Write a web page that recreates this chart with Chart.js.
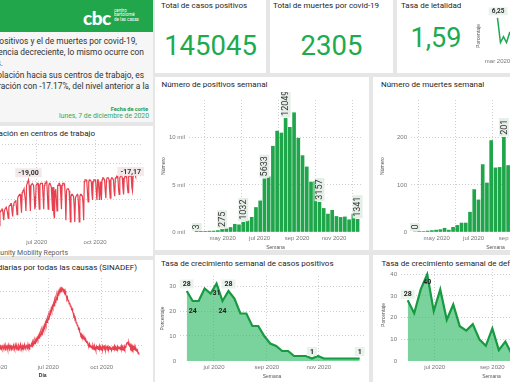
<!DOCTYPE html>
<html><head><meta charset="utf-8">
<script src="https://cdn.jsdelivr.net/npm/chart.js@4.4.1/dist/chart.umd.min.js"></script>
<style>
html,body{margin:0;padding:0}
body{width:510px;height:382px;overflow:hidden;position:relative;background:#e6e6e6;font-family:Roboto,'Open Sans',sans-serif;color:#252423}
.p{position:absolute;background:#fff;overflow:hidden}
.t{position:absolute;white-space:nowrap;line-height:1}
canvas{position:absolute}
</style></head><body>

<!-- left column -->
<div class="p" style="left:-200px;top:0;width:353px;height:122px;background:#f5f6f5"></div>
<div class="p" style="left:-200px;top:0;width:353px;height:32px;background:#21a64c"></div>
<div class="t" style="left:83px;top:6px;font:900 19px Lato,Roboto,sans-serif;color:#fff;letter-spacing:-0.5px">cbc</div>
<div class="t" style="left:114px;top:8px;font-size:9px;line-height:9px;color:#fff;transform:scale(0.5);transform-origin:0 0">centro<br>bartolomé<br>de las casas</div>

<div class="t" style="right:373px;top:37px;font-size:8.4px;line-height:9px;color:#333">El número de casos positivos y el de muertes por covid-19,</div>
<div class="t" style="right:366px;top:48px;font-size:8.4px;line-height:9px;color:#333">muestran una tendencia decreciente, lo mismo ocurre con</div>
<div class="t" style="right:507px;top:59px;font-size:8.4px;line-height:9px;color:#333">la mortalidad por todas las causas.</div>
<div class="t" style="right:366px;top:70.5px;font-size:8.4px;line-height:9px;color:#333">La movilidad de la población hacia sus centros de trabajo, es</div>
<div class="t" style="right:361px;top:81.5px;font-size:8.4px;line-height:9px;color:#333">la más alta desde la cuarentena, en recuperación con -17.17%, del nivel anterior a la</div>
<div class="t" style="right:362px;top:106px;font-size:5.6px;font-weight:700;line-height:6px;color:#1f9a47">Fecha de corte</div>
<div class="t" style="right:361px;top:113px;font-size:6.8px;line-height:7px;color:#35a853">lunes, 7 de diciembre de 2020</div>

<div class="p" style="left:-200px;top:126px;width:353px;height:130px"></div>
<div class="t" style="right:415px;top:129px;font-size:8px;line-height:9px">Movilidad: porcentaje de variación en centros de trabajo</div>
<div class="t" style="right:442px;top:248.5px;font-size:7px;line-height:8px;color:#605e5c">Fuente: Google Community Mobility Reports</div>
<canvas id="cMob" width="352" height="112" style="left:-200px;top:138px"></canvas>

<div class="p" style="left:-200px;top:260px;width:353px;height:130px"></div>
<div class="t" style="right:373px;top:262.5px;font-size:8px;line-height:9px">Muertes diarias por todas las causas (SINADEF)</div>
<canvas id="cSin" width="352" height="110" style="left:-200px;top:272px"></canvas>

<!-- cards -->
<div class="p" style="left:155px;top:-5px;width:111px;height:78px"></div>
<div class="t" style="left:161px;top:0.5px;font-size:8px;line-height:9px">Total de casos positivos</div>
<div class="t" style="left:155px;width:111px;text-align:center;top:31.6px;font-size:27.5px;color:#1dab4f">145045</div>

<div class="p" style="left:270px;top:-5px;width:123px;height:78px"></div>
<div class="t" style="left:273px;top:0.5px;font-size:8px;line-height:9px">Total de muertes por covid-19</div>
<div class="t" style="left:270px;width:123px;text-align:center;top:31.6px;font-size:27.5px;color:#1dab4f">2305</div>

<div class="p" style="left:397px;top:-5px;width:200px;height:78px"></div>
<div class="t" style="left:401px;top:0.5px;font-size:8px;line-height:9px">Tasa de letalidad</div>
<div class="t" style="left:396px;width:80px;text-align:center;top:24.8px;font-size:27px;color:#1dab4f">1,59</div>
<canvas id="cLet" width="140" height="70" style="left:470px;top:0"></canvas>

<!-- middle panels -->
<div class="p" style="left:155px;top:77px;width:214px;height:173px"></div>
<div class="t" style="left:161.5px;top:79.5px;font-size:8px;line-height:9px">Número de positivos semanal</div>
<canvas id="cPos" width="214" height="160" style="left:155px;top:92px"></canvas>

<div class="p" style="left:373px;top:77px;width:230px;height:173px"></div>
<div class="t" style="left:381px;top:79.5px;font-size:8px;line-height:9px">Número de muertes semanal</div>
<canvas id="cDea" width="214" height="160" style="left:373px;top:92px"></canvas>

<div class="p" style="left:155px;top:255px;width:214px;height:130px"></div>
<div class="t" style="left:161px;top:258.5px;font-size:8px;line-height:9px">Tasa de crecimiento semanal de casos positivos</div>
<canvas id="cGP" width="214" height="110" style="left:155px;top:272px"></canvas>

<div class="p" style="left:373px;top:255px;width:230px;height:130px"></div>
<div class="t" style="left:381.5px;top:258.5px;font-size:8px;line-height:9px">Tasa de crecimiento semanal de defunciones</div>
<canvas id="cGD" width="214" height="116" style="left:373px;top:266px"></canvas>

<script>
// ---------------- DATA ----------------
const posStart = '2020-03-19';   // weekly
const positivos = [3,40,70,90,100,150,275,330,480,820,760,1032,1180,1560,2600,3300,5633,5850,9100,10700,10500,12049,11100,12650,9950,8100,6900,5300,5350,3157,2500,1900,2300,1650,1550,1600,1300,1900,1341];

const deaStart = '2020-03-26';   // weekly
const muertes = [0,1,1,2,3,4,5,8,4,10,14,19,19,42,90,68,143,104,194,136,137,201,141,150,120,105,90,75,65,55,50,45,40,35,35,30,32,32];

const gPosStart = '2020-05-30';  // weekly
const crecPositivos = [28,24,24,29,27,31,24,28,25,19,19,14,14,10,7,6,4,4,2,2,2,1,2,1,1,1,1,1,1,1];

const gDeaStart = '2020-06-02';  // weekly
const crecMuertes = [28,22,33,40,23,33,19,26,16,14,17,10,7,15,5,9,3,6,4,7,2,3,5,1,2,3,1];

const letStart = '2020-03-01';   // weekly
const letalidad = [6.25,2.1,3.1,2.1,3.7,2.9,2.8,2.6,2.4,2.3,2.2,2.1,2.0,1.9,1.9,1.8,1.8,1.7,1.7,1.7,1.6,1.6,1.6,1.6];

const mobStart = '2020-04-27';   // daily
const movilidad = [
-40,-39,-39,-40,-45,-42,-44, -37,-36,-36,-35,-35,-38,-41, -36,-35,-35,-34,-34,-37,-40,
-34,-33,-33,-32,-32,-36,-39, -33,-32,-31,-31,-30,-34,-38, -29,-28,-28,-27,-27,-32,-37,
-26,-25,-25,-24,-24,-30,-36, -22,-21,-21,-19,-22,-29,-36, -22,-22,-21,-21,-22,-28,-35,
-33,-22,-22,-21,-21,-28,-35, -22,-21,-21,-21,-21,-28,-35, -22,-21,-21,-20,-21,-28,-35,
-22,-21,-21,-21,-23,-30,-36, -23,-38,-40,-25,-24,-30,-36, -22,-22,-21,-21,-22,-28,-35,
-22,-21,-21,-21,-22,-28,-41, -25,-24,-24,-24,-25,-31,-42, -28,-27,-27,-27,-28,-33,-42,
-29,-28,-28,-27,-28,-33,-42, -28,-27,-27,-27,-28,-32,-41, -20,-19,-19,-19,-20,-26,-31,
-20,-19,-19,-19,-20,-26,-30, -20,-19,-19,-19,-20,-26,-30, -19,-19,-19,-30,-20,-26,-30,
-19,-18,-18,-18,-19,-25,-29, -19,-18,-18,-18,-19,-25,-29, -19,-18,-18,-18,-19,-25,-28,
-18,-18,-17,-17,-18,-24,-27, -18,-17,-16,-17,-18,-24,-27, -18,-17,-17,-17,-18,-23,-26,
-17,-17,-16,-16,-17,-23,-25, -17,-17,-16,-16,-17.17];

const sinStart = '2020-04-01';   // daily
const sinadef = [
372,390,365,398,381,360,395,388,370,402,378,366,392,384,371,399,385,363,394,379,388,368,401,383,372,396,380,364,391,385,
374,398,382,367,403,386,371,395,380,362,399,388,375,404,383,369,397,381,391,366,402,385,373,396,388,377,405,384,370,399,392,
395,410,388,418,402,425,412,436,420,445,432,455,441,468,452,480,466,495,478,510,492,528,511,545,530,566,548,585,570,605,
592,628,615,650,636,672,655,690,676,712,694,735,718,752,738,775,756,792,770,808,786,818,800,835,812,826,798,820,790,805,776,
770,745,758,730,736,708,716,690,696,668,674,648,640,612,618,590,596,565,570,545,548,520,526,498,490,475,482,462,468,450,455,
440,446,430,436,420,425,412,405,395,410,388,402,380,395,372,398,384,366,392,378,360,388,375,392,368,380,396,372,386,364,
378,392,366,385,398,372,388,362,380,395,370,386,364,378,392,368,383,360,376,390,366,381,395,372,384,362,378,391,369,383,374,
388,365,380,394,370,386,362,378,392,372,385,398,410,418,425,402,415,395,405,384,398,378,392,372,386,368,380,362,375,358,
366,352,345,338];

const MESES = ['ene','feb','mar','abr','may','jun','jul','ago','sep','oct','nov','dic'];

// ---------------- HELPERS ----------------
const D = s => (Date.UTC(+s.slice(0,4), +s.slice(5,7)-1, +s.slice(8,10)) - Date.UTC(2020,0,1)) / 864e5;
const series = (start, step, vals) => vals.map((v,i) => ({x: D(start) + step*i, y: v}));
const monthLabel = v => { const d = new Date(Date.UTC(2020,0,1) + v*864e5); return MESES[d.getUTCMonth()] + ' ' + d.getUTCFullYear(); };
const ticksAt = arr => arr.map(D);

Chart.defaults.animation = false;
Chart.defaults.responsive = false;
Chart.defaults.devicePixelRatio = 1;
Chart.defaults.plugins.legend.display = false;
Chart.defaults.plugins.tooltip.enabled = false;

const GRID = '#cfcfcf', TICK = '#777', GREEN = '#1fa54a';

function xScale(o) {
  return {
    type:'linear', min:o.min, max:o.max, bounds:'data', offset:false,
    afterBuildTicks: s => { s.ticks = o.ticks.map(v => ({value:v})); },
    grid: { display: o.grid !== false, color: GRID, drawTicks:false, lineWidth:1 },
    border: { display:false, dash:[1,2] },
    ticks: { callback: v => monthLabel(v), font:{size:6}, color:TICK, padding:o.tp, maxRotation:0, autoSkip:false },
    title: { display: !!o.title, text:o.title || '', font:{size:5, weight:o.bold?'bold':'normal'}, color:o.bold?'#333':'#555', padding:{top:0,bottom:o.pb || 0} }
  };
}
function yScale(o) {
  return {
    min:o.min, max:o.max, bounds:'data',
    afterBuildTicks: s => { s.ticks = (o.ticks || []).map(v => ({value:v})); },
    grid: { display: o.grid !== false, color: c => (o.hideZero && c.tick && c.tick.value === 0) ? 'rgba(0,0,0,0)' : GRID, drawTicks:false },
    border: { display:false, dash:[1,2] },
    ticks: { display: o.showTicks !== false, font:{size:6}, color:TICK, padding:4, callback:o.fmt || (v => String(v)) },
    title: { display: !!o.title, text:o.title || '', font:{size:5}, color:'#555', padding:{top:o.tt || 0, bottom:0} }
  };
}
// fixes the plot rectangle (canvas pixels) so every panel matches the dashboard grid
function frame(a) {
  return {
    id: 'frame',
    afterLayout(chart) {
      const {x, y} = chart.scales, H = chart.height;
      Object.assign(chart.chartArea, {left:a.l, top:a.t, right:a.r, bottom:a.b, width:a.r - a.l, height:a.b - a.t});
      Object.assign(x, {left:a.l, right:a.r, top:a.b, bottom:H, width:a.r - a.l, height:H - a.b});
      Object.assign(y, {left:0, right:a.l, top:a.t, bottom:a.b, width:a.l, height:a.b - a.t});
      x.configure(); y.configure();
    }
  };
}
function labels(cfg) {
  return {
    id: 'lbl',
    afterDatasetsDraw(chart) {
      const ctx = chart.ctx, meta = chart.getDatasetMeta(0), data = chart.data.datasets[0].data;
      ctx.save();
      ctx.font = cfg.font;
      ctx.textBaseline = 'middle';
      for (const it of cfg.items) {
        const el = meta.data[it.i];
        const txt = cfg.fmt(data[it.i].y);
        const w = ctx.measureText(txt).width, h = cfg.boxH;
        if (cfg.rotate) {
          ctx.save();
          ctx.translate(el.x, el.y - 2);
          ctx.rotate(-Math.PI/2);
          ctx.fillStyle = cfg.bg;
          ctx.fillRect(-1, -h/2, w + 3, h);
          ctx.fillStyle = cfg.color;
          ctx.textAlign = 'left';
          ctx.fillText(txt, 0.5, 0.5);
          ctx.restore();
        } else {
          const cx = el.x + (it.dx || 0), cy = el.y + it.dy;
          if (it.box) { ctx.fillStyle = cfg.bg; ctx.fillRect(cx - w/2 - 3, cy - h/2, w + 6, h); }
          ctx.fillStyle = cfg.color; ctx.textAlign = 'center';
          ctx.fillText(txt, cx, cy + 0.5);
        }
      }
      ctx.restore();
    }
  };
}
const intFmt = v => String(Math.round(v));
const decFmt = v => v.toFixed(2).replace('.', ',');
const milFmt = v => (v/1000) + ' mil';

// ---------------- CHARTS ----------------
new Chart(document.getElementById('cMob'), {
  type:'line',
  data:{ datasets:[{ data: series(mobStart, 1, movilidad), borderColor:'#e8404e', borderWidth:1.2, pointRadius:0, tension:0, fill:false }] },
  options:{
    scales:{
      x: xScale({min:61, max:348, ticks:ticksAt(['2020-04-01','2020-07-01','2020-10-01']), tp:4}),
      y: yScale({min:-49.1, max:2.7, ticks:[-40,-30,-20,-10,0]})
    }
  },
  plugins:[frame({l:160, t:2, r:342, b:97}),
    labels({ rotate:false, font:'bold 7px Roboto', color:'#333', bg:'rgba(242,232,234,0.95)', boxH:9, fmt:decFmt,
    items:[{i:52,dy:-7,box:true},{i:221,dy:-5,dx:-5,box:true}] })]
});

new Chart(document.getElementById('cSin'), {
  type:'line',
  data:{ datasets:[{ data: series(sinStart, 1, sinadef), borderColor:'#e8404e', borderWidth:1.2, pointRadius:0, tension:0, fill:false }] },
  options:{
    scales:{
      x: xScale({min:1.1, max:343.6, ticks:ticksAt(['2020-04-01','2020-07-01','2020-10-01']), tp:3.5, title:'Día', pb:3, bold:true}),
      y: yScale({min:288, max:902, ticks:[400,600,800]})
    }
  },
  plugins:[frame({l:143.4, t:6, r:342, b:88})]
});

new Chart(document.getElementById('cPos'), {
  type:'bar',
  data:{ datasets:[{ data: series(posStart, 7, positivos), backgroundColor: GREEN, barThickness:3 }] },
  options:{
    scales:{
      x: xScale({min:65.3, max:351.3, ticks:ticksAt(['2020-05-01','2020-07-01','2020-09-01','2020-11-01']), tp:3, title:'Semana', pb:1}),
      y: yScale({min:0, max:14000, ticks:[0,5000,10000], fmt:milFmt, title:'Número', tt:5.3, hideZero:true})
    }
  },
  plugins:[frame({l:34, t:8, r:207, b:140}),
    labels({ rotate:true, font:'9px Roboto', color:'#333', bg:'rgba(228,238,231,0.95)', boxH:10, fmt:intFmt,
    items:[{i:0},{i:6},{i:11},{i:16},{i:21},{i:29},{i:38}] })]
});

new Chart(document.getElementById('cDea'), {
  type:'bar',
  data:{ datasets:[{ data: series(deaStart, 7, muertes), backgroundColor: GREEN, barThickness:3 }] },
  options:{
    scales:{
      x: xScale({min:78.5, max:357.8, ticks:ticksAt(['2020-05-01','2020-07-01','2020-09-01','2020-11-01']), tp:3, title:'Semana', pb:1}),
      y: yScale({min:0, max:280, ticks:[0,100,200], title:'Número', tt:7, hideZero:true})
    }
  },
  plugins:[frame({l:38, t:8, r:207, b:140}),
    labels({ rotate:true, font:'9px Roboto', color:'#333', bg:'rgba(228,238,231,0.95)', boxH:10, fmt:intFmt,
    items:[{i:0},{i:21}] })]
});

new Chart(document.getElementById('cGP'), {
  type:'line',
  data:{ datasets:[{ data: series(gPosStart, 7, crecPositivos), borderColor:'#189a43', borderWidth:2.2, backgroundColor:'rgba(34,180,90,0.6)', fill:'origin', pointRadius:0, tension:0 }] },
  options:{
    scales:{
      x: xScale({min:142.1, max:358.1, ticks:ticksAt(['2020-07-01','2020-09-01','2020-11-01']), tp:3, title:'Semana', pb:2}),
      y: yScale({min:0, max:34, ticks:[0,10,20,30], title:'Porcentaje', tt:5, hideZero:true})
    }
  },
  plugins:[frame({l:25, t:4, r:209, b:89}),
    labels({ rotate:false, font:'bold 7px Roboto', color:'#252423', bg:'rgba(232,242,235,0.95)', boxH:9, fmt:intFmt,
    items:[{i:0,dy:-7,box:true},{i:1,dy:10},{i:5,dy:9},{i:6,dy:10},{i:7,dy:-7,box:true},{i:21,dy:-7,box:true},{i:29,dy:-7,box:true}] })]
});

new Chart(document.getElementById('cGD'), {
  type:'line',
  data:{ datasets:[{ data: series(gDeaStart, 7, crecMuertes), borderColor:'#189a43', borderWidth:2.2, backgroundColor:'rgba(34,180,90,0.6)', fill:'origin', pointRadius:0, tension:0 }] },
  options:{
    scales:{
      x: xScale({min:145.8, max:340.4, ticks:ticksAt(['2020-07-01','2020-09-01','2020-11-01']), tp:3, title:'Semana', pb:2}),
      y: yScale({min:0, max:42.4, ticks:[0,10,20,30,40], title:'Porcentaje', tt:7.3, hideZero:true})
    }
  },
  plugins:[frame({l:28, t:3, r:209, b:95}),
    labels({ rotate:false, font:'bold 7px Roboto', color:'#252423', bg:'rgba(232,242,235,0.95)', boxH:9, fmt:intFmt,
    items:[{i:0,dy:-6,box:true},{i:3,dy:8}] })]
});

new Chart(document.getElementById('cLet'), {
  type:'line',
  data:{ datasets:[{ data: series(letStart, 7, letalidad), borderColor:'#1fa84f', borderWidth:1.5, pointRadius:0, tension:0, fill:false }] },
  options:{
    scales:{
      x: xScale({min:31, max:321.7, ticks:ticksAt(['2020-03-01','2020-06-01','2020-09-01']), tp:3, grid:false}),
      y: yScale({min:0, max:6.4, ticks:[], showTicks:false, title:'Porcentaje', tt:5.3, grid:false})
    }
  },
  plugins:[frame({l:15, t:17, r:140, b:55}),
    labels({ rotate:false, font:'bold 6.5px Roboto', color:'#333', bg:'rgba(232,242,235,0.95)', boxH:8, fmt:decFmt,
    items:[{i:0,dy:-6.6,dx:0.7,box:true}] })]
});
</script>
</body></html>
